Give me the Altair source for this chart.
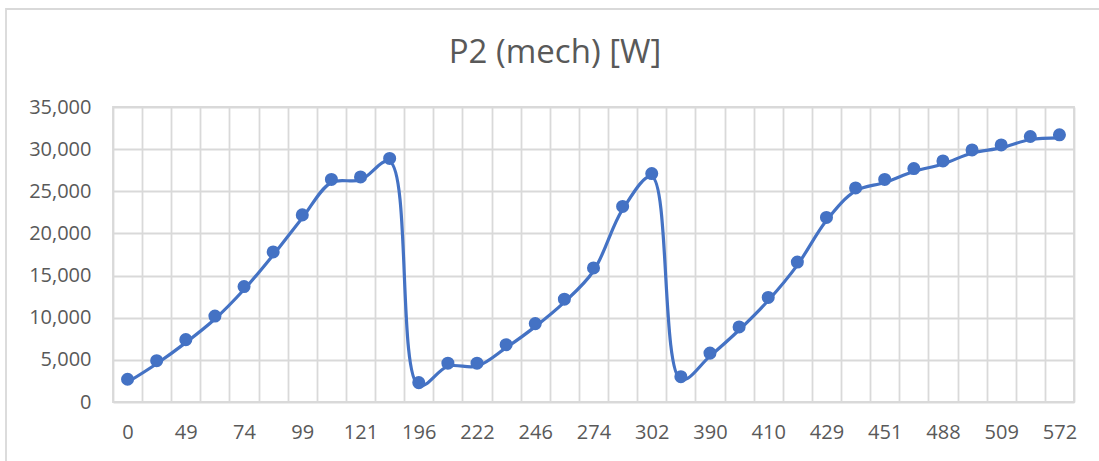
import altair as alt
import pandas as pd

# Visible category labels (every other category is labelled on the axis)
visible_labels = ["0", "49", "74", "99", "121", "196", "222", "246", "274",
                  "302", "390", "410", "429", "451", "488", "509", "572"]

# P2 (mech) [W] values, one per category (33 categories)
p2_values = [2700, 4900, 7400, 10200, 13700, 17800, 22200, 26400, 26700, 28900,
             2300, 4600, 4600, 6800, 9300, 12200, 15900, 23200, 27100,
             3000, 5800, 8900, 12400, 16600, 21900, 25400, 26400, 27700, 28600,
             29900, 30500, 31500, 31700]

title_text = "P2 (mech) [W]"

n = len(p2_values)
axis_labels = [visible_labels[i // 2] if i % 2 == 0 else "" for i in range(n)]
df = pd.DataFrame({"idx": list(range(n)), "value": p2_values, "label": axis_labels})

label_expr = "[" + ",".join("'" + s + "'" for s in axis_labels) + "][datum.value]"

FONT = "Open Sans"
TXT = "#595959"
GRID = "#d9d9d9"
BLUE = "#4472C4"

x_enc = alt.X(
    "idx:O",
    scale=alt.Scale(type="band", paddingInner=0, paddingOuter=0),
    axis=alt.Axis(
        title=None, labelExpr=label_expr, tickBand="extent", grid=True,
        gridColor=GRID, gridWidth=1.8, ticks=False, domain=False, labelAngle=0,
        labelFont=FONT, labelFontSize=20, labelColor=TXT, labelPadding=20,
    ),
)
y_enc = alt.Y(
    "value:Q",
    scale=alt.Scale(domain=[0, 35000], nice=False),
    axis=alt.Axis(
        title=None, values=[0, 5000, 10000, 15000, 20000, 25000, 30000, 35000],
        format=",.0f", grid=True, gridColor=GRID, gridWidth=1.8, ticks=False,
        domain=False, labelFont=FONT, labelFontSize=20, labelColor=TXT,
        labelPadding=22,
    ),
)

base = alt.Chart(df)
line = base.mark_line(color=BLUE, strokeWidth=3.2, interpolate="catmull-rom",
                      yOffset=3).encode(x=x_enc, y=y_enc)
points = base.mark_point(filled=True, color=BLUE, size=170, opacity=1).encode(
    x=x_enc, y=y_enc)

one = pd.DataFrame({"t": [0]})
border = alt.Chart(one).mark_rect(fillOpacity=0, stroke=GRID, strokeWidth=1.8).encode(
    x=alt.value(-107), x2=alt.value(1010), y=alt.value(-98), y2=alt.value(380))
title = alt.Chart(one).mark_text(
    text=title_text, font=FONT, fontSize=33, color=TXT, align="center",
    baseline="alphabetic").encode(x=alt.value(442), y=alt.value(-44))

chart = alt.layer(border, line, points, title).properties(
    width=961, height=295,
    autosize=alt.AutoSizeParams(type="none"),
    padding={"left": 113, "top": 107, "right": 25, "bottom": 59},
    background="white",
).configure_view(stroke=GRID, strokeWidth=1.8)

chart.save("out.html", embed_options={"renderer": "svg", "actions": False})
